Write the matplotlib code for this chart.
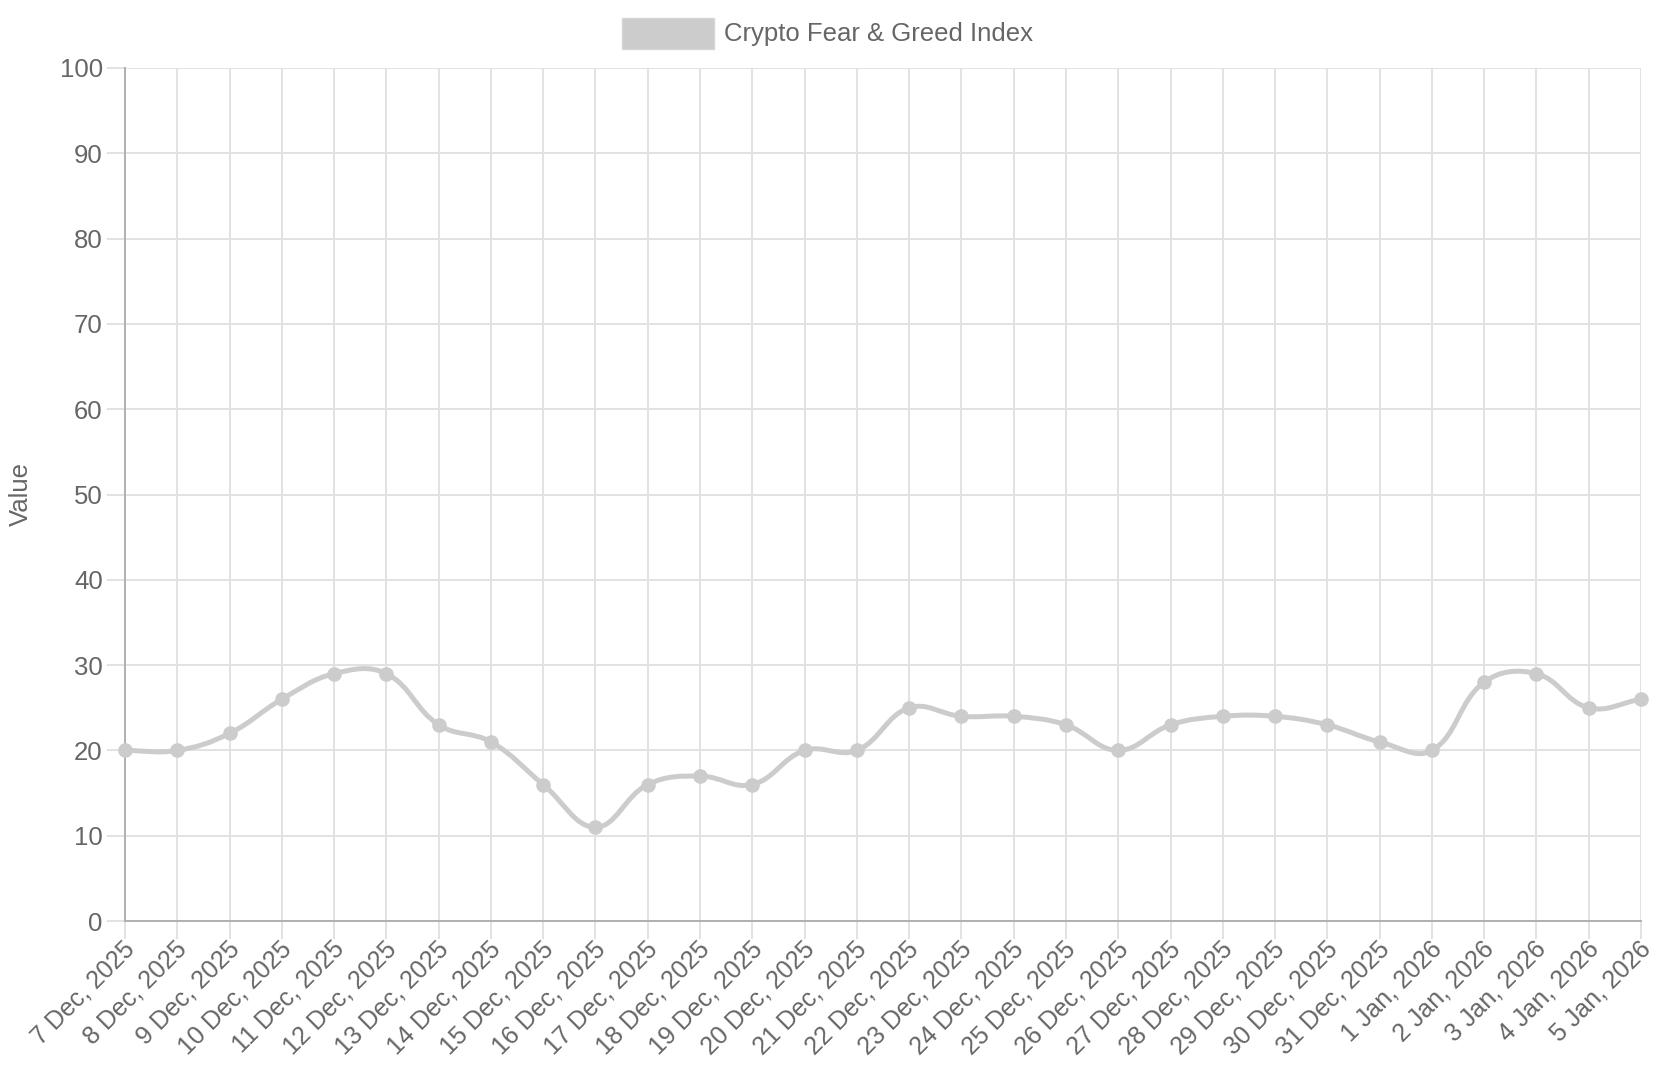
import numpy as np
import matplotlib
matplotlib.use("Agg")
import matplotlib.pyplot as plt
import matplotlib.transforms as mtransforms
from matplotlib.path import Path
from matplotlib.patches import PathPatch, Rectangle

plt.rcParams['font.family'] = ['Liberation Sans', 'DejaVu Sans']

# ---------- DATA ----------
dates = [
    "7 Dec, 2025", "8 Dec, 2025", "9 Dec, 2025", "10 Dec, 2025", "11 Dec, 2025",
    "12 Dec, 2025", "13 Dec, 2025", "14 Dec, 2025", "15 Dec, 2025", "16 Dec, 2025",
    "17 Dec, 2025", "18 Dec, 2025", "19 Dec, 2025", "20 Dec, 2025", "21 Dec, 2025",
    "22 Dec, 2025", "23 Dec, 2025", "24 Dec, 2025", "25 Dec, 2025", "26 Dec, 2025",
    "27 Dec, 2025", "28 Dec, 2025", "29 Dec, 2025", "30 Dec, 2025", "31 Dec, 2025",
    "1 Jan, 2026", "2 Jan, 2026", "3 Jan, 2026", "4 Jan, 2026", "5 Jan, 2026",
]
values = [20, 20, 22, 26, 29, 29, 23, 21, 16, 11,
          16, 17, 16, 20, 20, 25, 24, 24, 23, 20,
          23, 24, 24, 23, 21, 20, 28, 29, 25, 26]
y_ticks = list(range(0, 101, 10))
series_name = "Crypto Fear & Greed Index"

# ---------- STYLE ----------
LINE = "#cccccc"
GRID = "#e2e2e2"
AXIS = "#b0b0b0"
TEXT = "#666666"
FS = 18.5
FS_X = 18


def spline_path(ax, xs, ys, tension=0.4):
    # same control point rule as a chart.js line with tension
    pts = ax.transData.transform(np.column_stack([xs, ys]))
    n = len(pts)
    cp_prev, cp_next = [], []
    for i in range(n):
        p0 = pts[max(i - 1, 0)]
        p1 = pts[i]
        p2 = pts[min(i + 1, n - 1)]
        d01 = np.hypot(*(p1 - p0))
        d12 = np.hypot(*(p2 - p1))
        tot = d01 + d12
        s01 = d01 / tot if tot else 0
        s12 = d12 / tot if tot else 0
        cp_prev.append(p1 - tension * s01 * (p2 - p0))
        cp_next.append(p1 + tension * s12 * (p2 - p0))
    verts = [pts[0]]
    codes = [Path.MOVETO]
    for i in range(1, n):
        verts += [cp_next[i - 1], cp_prev[i], pts[i]]
        codes += [Path.CURVE4] * 3
    verts = ax.transData.inverted().transform(np.array(verts))
    return Path(verts, codes)


fig = plt.figure(figsize=(16.58, 10.69), dpi=100)
ax = fig.add_axes([0.0754, 0.1384, 0.91435, 0.798])

x = np.arange(len(values))
ax.set_xlim(0, len(values) - 1)
ax.set_ylim(0, 100)

ax.add_patch(PathPatch(spline_path(ax, x, values), facecolor="none",
                       edgecolor=LINE, linewidth=3.6, zorder=3,
                       capstyle="round", joinstyle="round"))
ax.plot(x, values, "o", color=LINE, markersize=9.5, zorder=4, clip_on=False)

ax.set_yticks(y_ticks)
ax.set_xticks(x)
ax.set_xticklabels(dates, rotation=45, ha="right", va="center",
                   rotation_mode="anchor")
ax.tick_params(axis="both", length=13, width=1.4, color=GRID,
               labelsize=FS, labelcolor=TEXT, pad=3)
ax.tick_params(axis="x", pad=3, labelsize=FS_X)
# nudge the slanted labels a little right, like chart.js places them
shift = mtransforms.ScaledTranslation(6 / 100, -2 / 100, fig.dpi_scale_trans)
for lbl in ax.get_xticklabels():
    lbl.set_transform(lbl.get_transform() + shift)

ax.grid(True, color=GRID, linewidth=1.4)
ax.set_axisbelow(True)
for side in ["top", "right"]:
    ax.spines[side].set_visible(False)
for side in ["left", "bottom"]:
    ax.spines[side].set_color(AXIS)
    ax.spines[side].set_linewidth(1.4)

# legend and axis title, placed like the original chart
fig.patches.append(Rectangle((622 / 1658, 1 - 49 / 1069), 92 / 1658, 31 / 1069,
                             transform=fig.transFigure, facecolor=LINE,
                             edgecolor="#d6d6d6", linewidth=1))
fig.text(724 / 1658, 1 - 33.5 / 1069, series_name, fontsize=FS,
         color=TEXT, ha="left", va="center")
fig.text(21 / 1658, 1 - 494 / 1069, "Value", fontsize=FS, color=TEXT,
         rotation=90, ha="center", va="center")

plt.savefig("out.png", dpi=100, facecolor="white")
plt.close()
